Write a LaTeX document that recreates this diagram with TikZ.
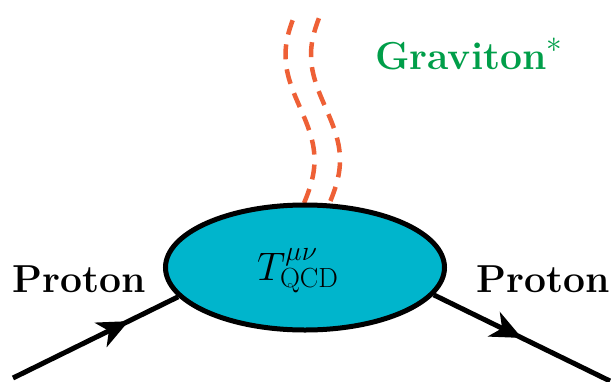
\documentclass[tikz,border=0pt]{standalone}
\usetikzlibrary{shapes.geometric,arrows.meta,decorations.markings}
\definecolor{blobfill}{RGB}{0,181,204}
\definecolor{gravorange}{RGB}{238,96,54}
\definecolor{gravgreen}{RGB}{0,158,73}
\tikzset{
  bigtext/.style={font=\fontsize{26}{30}\selectfont\bfseries, inner sep=0pt, scale=1.5},
  blobstyle/.style={ellipse, draw=black, line width=5pt, fill=blobfill, minimum width=279pt, minimum height=125pt, inner sep=0pt},
  protonline/.style={line width=5pt},
  midarrow/.style={postaction={decorate, decoration={markings, mark=at position #1 with {\arrow{Stealth[length=31pt,width=27pt,inset=9pt]}}}}},
  gravline/.style={draw=gravorange, line width=4.5pt, dash pattern=on 15pt off 10pt}
}
\begin{document}
\begin{tikzpicture}[x=1pt,y=-1pt]
\useasboundingbox (0,0) rectangle (611,381);
% graviton double line
\draw[gravline] plot[domain=203:13, samples=80, variable=\t] ({300+14.5*sin(90+(160-\t)*1.7143)}, \t);
\draw[gravline] plot[domain=201:13, samples=80, variable=\t] ({325.5+14.5*sin(90+(160-\t)*1.7143)}, \t);
% blob
\node[blobstyle] (blob) at (305,267.5) {};
\node[inner sep=0pt, anchor=base, scale=1.6] (tlabel) at (298,280) {\fontsize{24}{28}\selectfont $T^{\mu\nu}_{\mathrm{QCD}}$};
% proton lines
\coordinate (pin) at (13,378);
\coordinate (pout) at (610,381);
\draw[protonline, midarrow=0.70] (pin) -- (blob.193);
\draw[protonline, midarrow=0.50] (blob.348) -- (pout);
% labels
\node[bigtext, anchor=base west] (pl) at (12,292) {Proton};
\node[bigtext, anchor=base west] (pr) at (476,292) {Proton};
\node[inner sep=0pt, anchor=base west, text=gravgreen, scale=1.5, font=\fontsize{26}{30}\selectfont\bfseries] (grav) at (375,69) {Graviton\raisebox{11pt}{\fontsize{20}{20}\selectfont$*$}};
\end{tikzpicture}
\end{document}
